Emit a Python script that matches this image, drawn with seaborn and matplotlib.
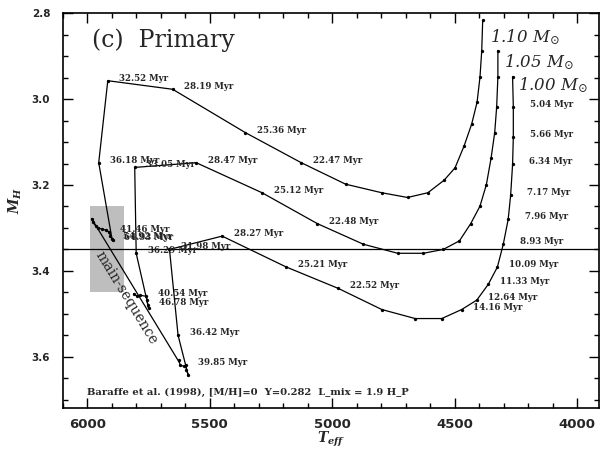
import matplotlib
matplotlib.use("Agg")
import matplotlib.pyplot as plt
import pandas as pd
import seaborn as sns
from matplotlib.patches import Rectangle
from matplotlib.ticker import MultipleLocator

# pre-main-sequence tracks (Teff, M_H), young -> old
teff_110 = [4385, 4389, 4396, 4408, 4430, 4461, 4498, 4543, 4609, 4692, 4797, 4945,
            5126, 5354, 5651, 5916, 5953, 5899, 5896, 5905, 5912, 5923, 5939, 5955,
            5966, 5977, 5982]
mh_110 = [2.816, 2.887, 2.948, 3.007, 3.058, 3.109, 3.160, 3.189, 3.218, 3.229, 3.218, 3.198,
          3.148, 3.078, 2.977, 2.957, 3.148, 3.325, 3.328, 3.318, 3.309, 3.305, 3.303, 3.300,
          3.295, 3.286, 3.278]
age_110 = [""] * 12 + ["22.47", "25.36", "28.19", "32.52", "36.18", "54.92", "64.93", "",
                       "41.46", "", "", "", "", "", ""]

teff_105 = [4323, 4323, 4328, 4336, 4351, 4370, 4396, 4434, 4480, 4546, 4627, 4732, 4872,
            5060, 5286, 5555, 5806, 5800, 5749, 5753, 5755, 5759, 5783, 5796, 5810]
mh_105 = [2.887, 2.948, 3.018, 3.078, 3.138, 3.199, 3.249, 3.290, 3.330, 3.350, 3.359, 3.359,
          3.338, 3.290, 3.218, 3.148, 3.159, 3.359, 3.487, 3.480, 3.468, 3.459, 3.457, 3.459,
          3.453]
age_105 = [""] * 13 + ["22.48", "25.12", "28.47", "33.05", "36.29", "", "46.78", "", "40.54",
                       "", "", ""]

teff_100 = [4263, 4260, 4260, 4263, 4271, 4281, 4301, 4325, 4362, 4409, 4471, 4552, 4661,
            4797, 4974, 5187, 5449, 5664, 5629, 5588, 5595, 5596, 5606, 5620, 5626]
mh_100 = [2.948, 3.018, 3.088, 3.152, 3.224, 3.280, 3.338, 3.391, 3.431, 3.468, 3.490, 3.511,
          3.511, 3.490, 3.441, 3.391, 3.319, 3.350, 3.550, 3.642, 3.630, 3.620, 3.622, 3.620,
          3.608]
age_100 = ["", "5.04", "5.66", "6.34", "7.17", "7.96", "8.93", "10.09", "11.33", "12.64",
           "14.16", "", "", "", "22.52", "25.21", "28.27", "31.98", "36.42", "", "", "39.85",
           "", "", ""]

zams_teff = [5980, 5624]
zams_mh = [3.280, 3.613]

obs_teff, obs_teff_err = 5920, 70
obs_mh, obs_mh_err = 3.35, 0.10

tracks = [("1.10", teff_110, mh_110, age_110),
          ("1.05", teff_105, mh_105, age_105),
          ("1.00", teff_100, mh_100, age_100)]

rows = []
for mass, te, mh, ag in tracks:
    for i, (t, m, a) in enumerate(zip(te, mh, ag)):
        rows.append({"mass": mass, "i": i, "teff": t, "mh": m, "age": a})
df = pd.DataFrame(rows)

sns.set_style("ticks")
plt.rcParams["mathtext.fontset"] = "custom"
plt.rcParams["mathtext.it"] = "DejaVu Serif:italic:bold"
plt.rcParams["mathtext.rm"] = "DejaVu Serif:bold"

fig = plt.figure(figsize=(6.06, 4.49), dpi=100)
ax = fig.add_axes([0.1035, 0.0907, 0.885, 0.8797])

ax.add_patch(Rectangle((obs_teff - obs_teff_err, obs_mh - obs_mh_err),
                       2 * obs_teff_err, 2 * obs_mh_err,
                       facecolor="#bebebe", edgecolor="none", zorder=0))
ax.axhline(obs_mh, color="black", lw=0.9, zorder=1)

sns.lineplot(data=df, x="teff", y="mh", units="mass", estimator=None, sort=False,
             color="black", lw=0.9, marker="o", markersize=2.4, markeredgewidth=0,
             legend=False, ax=ax, zorder=2)
ax.plot(zams_teff, zams_mh, color="black", lw=0.9, zorder=2)

for _, r in df[df["age"] != ""].iterrows():
    dx = 12.0 if (r["mass"] == "1.00" and float(r["age"]) < 10) else 8.3
    ax.annotate(f"{r['age']} Myr", (r["teff"], r["mh"]), xytext=(dx, 1.8),
                textcoords="offset points", ha="left", va="center",
                fontsize=6.2, fontweight="bold", family="DejaVu Serif")

for mass, t, m in [("1.10", 4355, 2.855), ("1.05", 4298, 2.914), ("1.00", 4241, 2.967)]:
    ax.text(t, m, mass + r" $M_{\odot}$", fontsize=12, fontstyle="italic",
            family="DejaVu Serif", math_fontfamily="dejavuserif",
            ha="left", va="center")

ax.text(5840, 3.463, "main-sequence", rotation=-58.5, rotation_mode="anchor",
        ha="center", va="center", fontsize=10, family="DejaVu Serif")

ax.text(0.054, 0.932, "(c)  Primary", transform=ax.transAxes, fontsize=17,
        family="DejaVu Serif", ha="left", va="center")
ax.text(0.045, 0.041, "Baraffe et al. (1998), [M/H]=0  Y=0.282  L_mix = 1.9 H_P",
        transform=ax.transAxes, fontsize=7.2, fontweight="bold", family="DejaVu Serif",
        ha="left", va="center")

ax.set_xlim(6100, 3910)
ax.set_ylim(3.72, 2.8)
ax.xaxis.set_major_locator(MultipleLocator(500))
ax.xaxis.set_minor_locator(MultipleLocator(100))
ax.yaxis.set_major_locator(MultipleLocator(0.2))
ax.yaxis.set_minor_locator(MultipleLocator(0.05))
ax.yaxis.set_major_formatter(matplotlib.ticker.FormatStrFormatter("%.1f"))

ax.tick_params(which="both", direction="in", top=True, right=True, width=1.0, color="black")
ax.tick_params(which="major", length=7)
ax.tick_params(which="minor", length=3.6)
ax.tick_params(axis="x", pad=7, labelsize=9.5)
ax.tick_params(axis="y", pad=9, labelsize=7.5)
for lab in ax.get_xticklabels() + ax.get_yticklabels():
    lab.set_fontweight("bold")
for sp in ax.spines.values():
    sp.set_linewidth(1.2)
    sp.set_color("black")

ax.set_xlabel(r"$T_{eff}$", fontsize=10, math_fontfamily="custom")
ax.set_ylabel(r"$M_{H}$", fontsize=10, math_fontfamily="custom")
ax.xaxis.set_label_coords(0.5, -0.055)
ax.yaxis.set_label_coords(-0.073, 0.527)

fig.savefig("out.png", dpi=100)
